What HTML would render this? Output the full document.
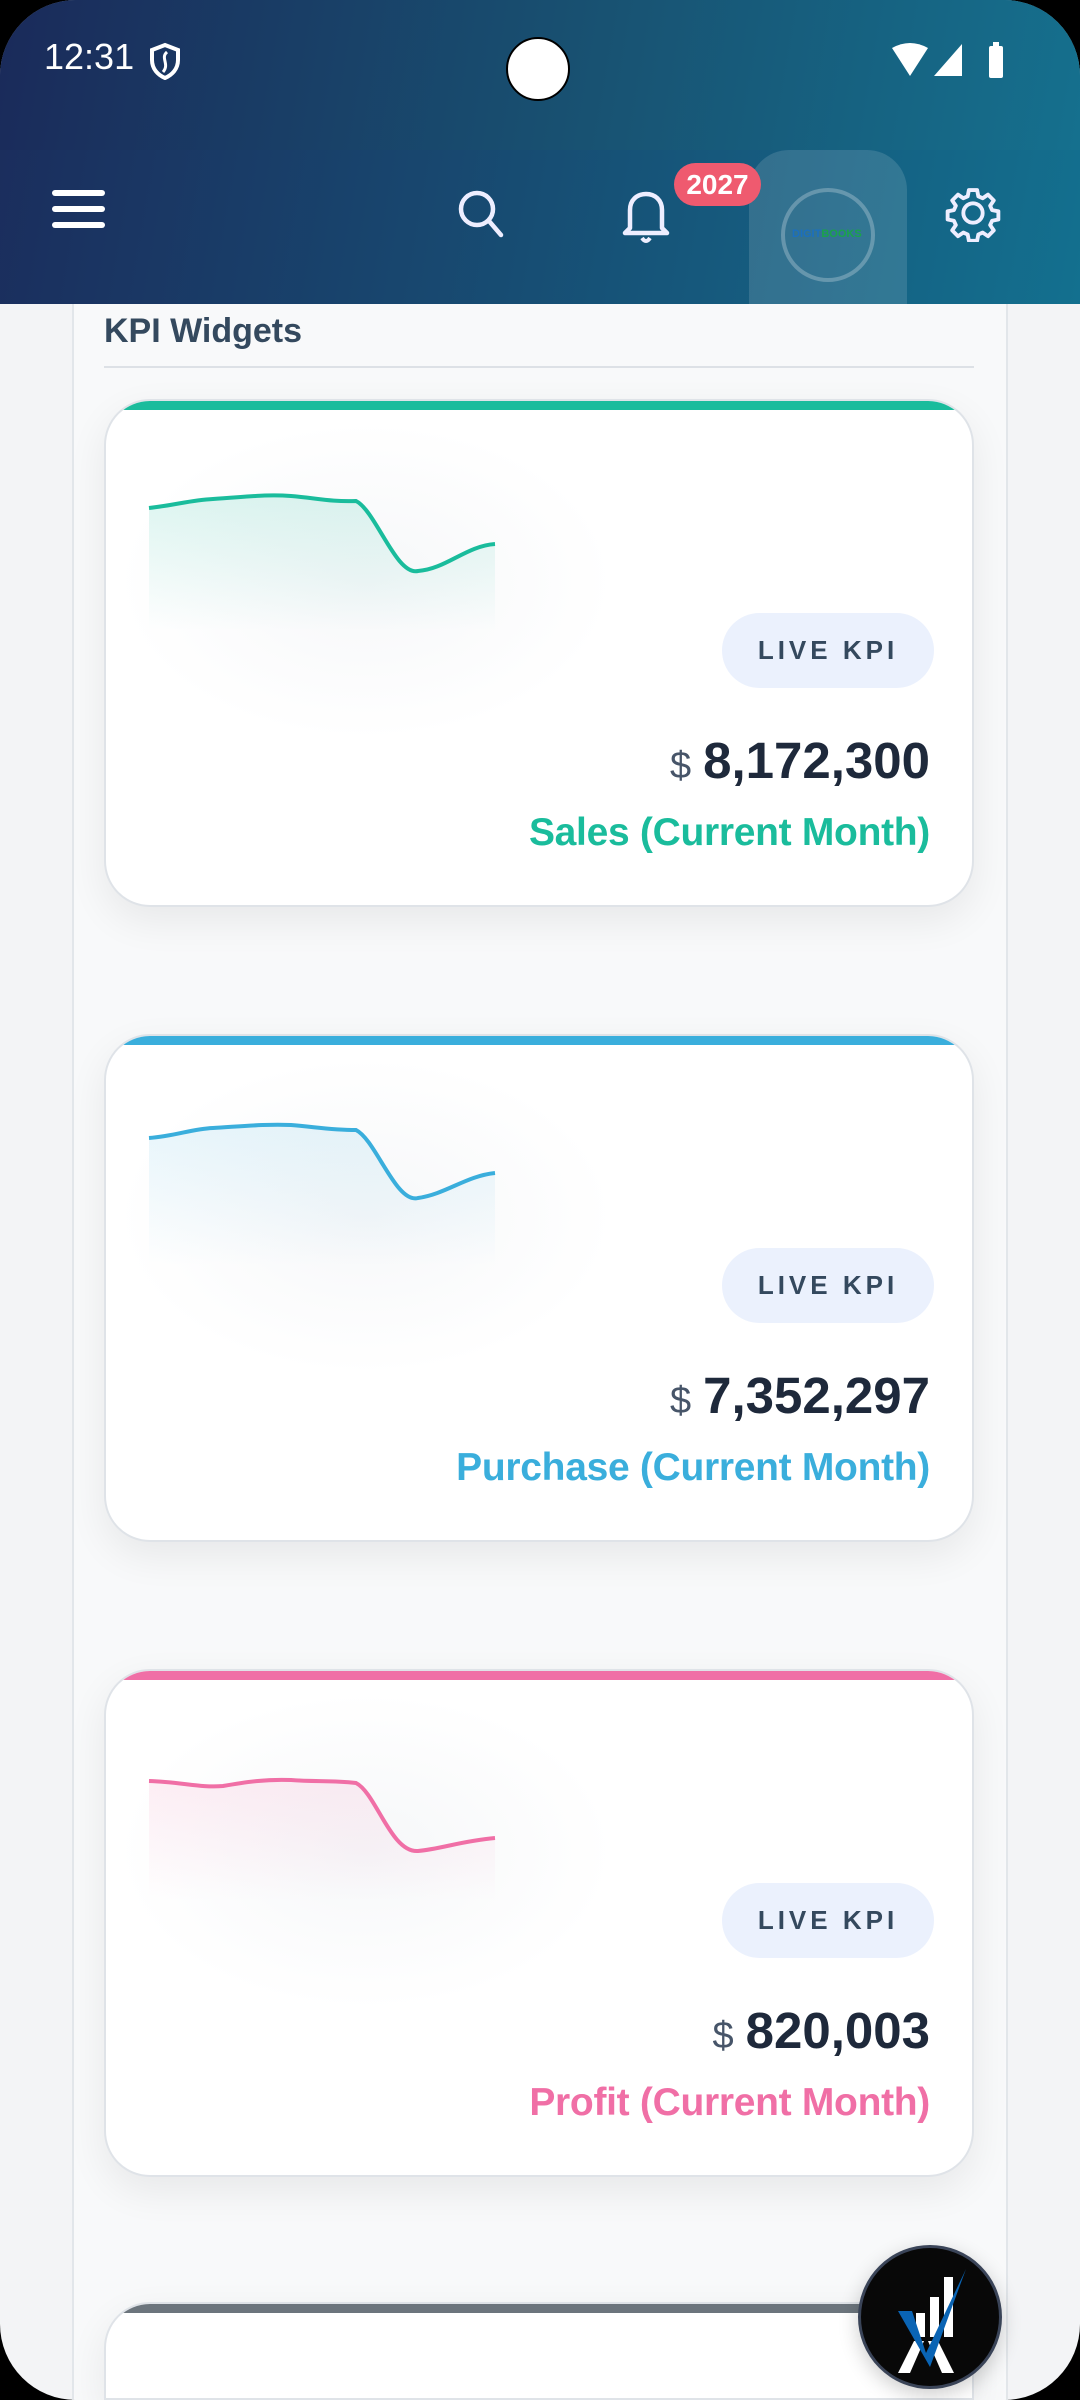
<!DOCTYPE html>
<html><head><meta charset="utf-8"><style>
*{margin:0;padding:0;box-sizing:border-box}
html,body{width:1080px;height:2400px;overflow:hidden}
body{background:#000;font-family:"Liberation Sans",sans-serif;position:relative}
.screen{position:absolute;left:0;top:0;width:1080px;height:2400px;border-radius:76px;overflow:hidden;background:#f3f4f6}
.header{position:absolute;left:0;top:0;width:1080px;height:304px;background:linear-gradient(100deg,#1b2c5c 0%,#174d73 50%,#13708f 100%)}
.status{position:absolute;left:0;top:0;width:1080px;height:150px;background:linear-gradient(100deg,#1a2a5a 0%,#185272 55%,#15708e 100%)}
.panel{position:absolute;left:72px;top:304px;width:936px;height:2096px;background:#f8f9fa;border-left:2px solid #e2e6ea;border-right:2px solid #e2e6ea}
.card{position:absolute;left:104px;width:870px;height:508px;background:#fff;border-radius:46px;border:2px solid #dfe3e8;box-shadow:0 14px 40px rgba(0,0,0,0.07);overflow:hidden}
.card .bar{position:absolute;left:0;top:0;width:100%;height:9px}
.pill{position:absolute;left:616px;top:212px;width:212px;height:75px;border-radius:38px;background:#ebf1fd;color:#34495e;font-weight:bold;font-size:26px;letter-spacing:4px;text-align:center;line-height:75px}
.val{position:absolute;right:42px;top:330px;font-weight:bold;font-size:51px;color:#1e293b;white-space:nowrap}
.val span{font-size:38px;color:#475569;font-weight:normal;margin-right:12px}
.lab{position:absolute;right:42px;top:410px;font-weight:bold;font-size:39px;letter-spacing:-0.3px;white-space:nowrap}
.glow{position:absolute;left:10px;top:20px;width:500px;height:320px;border-radius:50%;background:radial-gradient(ellipse,rgba(240,242,245,0.6),rgba(255,255,255,0) 70%)}
</style></head><body>
<div class="screen">
<div class="header"></div>
<div class="status"></div>
<div style="position:absolute;left:44px;top:36px;color:#fff;font-size:36px">12:31</div>
<svg style="position:absolute;left:148px;top:42px" width="34" height="38" viewBox="0 0 34 38"><path d="M17 3 L30 8 V18 C30 27 24 33 17 36 C10 33 4 27 4 18 V8 Z" fill="none" stroke="#fff" stroke-width="4"/><path d="M19 10 C12 16 22 22 15 30" fill="none" stroke="#fff" stroke-width="3"/></svg>
<div style="position:absolute;left:506px;top:37px;width:64px;height:64px;border-radius:50%;background:#fff;border:2px solid #000"></div>
<svg style="position:absolute;left:890px;top:40px" width="120" height="40" viewBox="0 0 120 40"><path d="M2 8 Q20 -2 38 8 L20 36 Z" fill="#fff"/><path d="M72 4 V36 H44 Z" fill="#fff"/><rect x="99" y="6" width="14" height="32" rx="2" fill="#fff"/><rect x="103" y="2" width="6" height="6" fill="#fff"/></svg>
<div style="position:absolute;left:52px;top:190px;width:53px;height:6px;border-radius:3px;background:#fff"></div>
<div style="position:absolute;left:52px;top:206px;width:53px;height:6px;border-radius:3px;background:#fff"></div>
<div style="position:absolute;left:52px;top:222px;width:53px;height:6px;border-radius:3px;background:#fff"></div>
<svg style="position:absolute;left:456px;top:188px" width="52" height="52" viewBox="0 0 52 52"><circle cx="21" cy="21" r="16" fill="none" stroke="#eef" stroke-width="4.5"/><line x1="33" y1="33" x2="45" y2="47" stroke="#eef" stroke-width="4.5" stroke-linecap="round"/></svg>
<svg style="position:absolute;left:618px;top:186px" width="56" height="60" viewBox="0 0 56 60"><path d="M12 42 V24 C12 14 19 8 28 8 C37 8 44 14 44 24 V42 L49 47 H7 Z" fill="none" stroke="#eef" stroke-width="4.5" stroke-linejoin="round"/><path d="M24 52 Q28 58 32 52" fill="none" stroke="#eef" stroke-width="4"/></svg>
<div style="position:absolute;left:749px;top:150px;width:158px;height:154px;border-radius:40px 40px 0 0;background:rgba(255,255,255,0.13)"></div>
<div style="position:absolute;left:781px;top:188px;width:94px;height:94px;border-radius:50%;border:4px solid rgba(255,255,255,0.25)"></div>
<div style="position:absolute;left:792px;top:228px;font-size:11px;color:#1b6fc0;font-weight:bold">DIGIT<span style="color:#1aa34a">BOOKS</span></div>
<div style="position:absolute;left:674px;top:163px;width:87px;height:43px;border-radius:22px;background:#ef5a6f;color:#fff;font-weight:bold;font-size:28px;text-align:center;line-height:43px">2027</div>
<svg style="position:absolute;left:944px;top:184px" width="58" height="58" viewBox="0 0 24 24"><path d="M12 8a4 4 0 1 0 0 8a4 4 0 1 0 0-8z" fill="none" stroke="#eef" stroke-width="1.6"/><path d="M10.3 2.5h3.4l.5 2.6 1.8.8 2.2-1.5 2.4 2.4-1.5 2.2.8 1.8 2.6.5v3.4l-2.6.5-.8 1.8 1.5 2.2-2.4 2.4-2.2-1.5-1.800.8-.5 2.6h-3.4l-.5-2.6-1.8-.8-2.2 1.5-2.4-2.4 1.5-2.2-.8-1.8-2.6-.5v-3.4l2.6-.5.8-1.8-1.5-2.2 2.4-2.4 2.2 1.5 1.8-.8z" fill="none" stroke="#eef" stroke-width="1.6" stroke-linejoin="round"/></svg>
<div class="panel"></div>
<div style="position:absolute;left:104px;top:312px;font-size:34px;font-weight:bold;color:#34495e">KPI Widgets</div>
<div style="position:absolute;left:104px;top:366px;width:870px;height:2px;background:#dde1e6"></div>

<div class="card" style="top:399px">
 <div class="bar" style="background:#1abc9c"></div><div class="glow"></div>
 <svg style="position:absolute;left:0;top:0" width="600" height="300"><defs><linearGradient id="g1" x1="0" y1="0" x2="0" y2="1"><stop offset="0" stop-color="#1abc9c" stop-opacity="0.15"/><stop offset="1" stop-color="#1abc9c" stop-opacity="0"/></linearGradient></defs>
 <path d="M43 107 C70 104 85 99 107 98 C140 96 160 93 185 95 C210 97 225 101 250 100 C270 110 290 175 312 170 C340 168 360 145 389 143 L389 230 L43 230 Z" fill="url(#g1)"/>
 <path d="M43 107 C70 104 85 99 107 98 C140 96 160 93 185 95 C210 97 225 101 250 100 C270 110 290 175 312 170 C340 168 360 145 389 143" fill="none" stroke="#1abc9c" stroke-width="4"/></svg>
 <div class="pill">LIVE KPI</div>
 <div class="val"><span>$</span>8,172,300</div>
 <div class="lab" style="color:#1abc9c">Sales (Current Month)</div>
</div>

<div class="card" style="top:1034px">
 <div class="bar" style="background:#3aaedc"></div><div class="glow"></div>
 <svg style="position:absolute;left:0;top:0" width="600" height="300"><defs><linearGradient id="g2" x1="0" y1="0" x2="0" y2="1"><stop offset="0" stop-color="#3aaedc" stop-opacity="0.12"/><stop offset="1" stop-color="#3aaedc" stop-opacity="0"/></linearGradient></defs>
 <path d="M43 102 C70 100 85 93 107 92 C140 90 160 88 185 89 C210 91 225 94 250 94 C270 104 290 168 312 162 C340 158 360 140 389 137 L389 230 L43 230 Z" fill="url(#g2)"/>
 <path d="M43 102 C70 100 85 93 107 92 C140 90 160 88 185 89 C210 91 225 94 250 94 C270 104 290 168 312 162 C340 158 360 140 389 137" fill="none" stroke="#3aaedc" stroke-width="4"/></svg>
 <div class="pill">LIVE KPI</div>
 <div class="val"><span>$</span>7,352,297</div>
 <div class="lab" style="color:#3aaedc">Purchase (Current Month)</div>
</div>

<div class="card" style="top:1669px">
 <div class="bar" style="background:#f06fa6"></div><div class="glow"></div>
 <svg style="position:absolute;left:0;top:0" width="600" height="300"><defs><linearGradient id="g3" x1="0" y1="0" x2="0" y2="1"><stop offset="0" stop-color="#f06fa6" stop-opacity="0.12"/><stop offset="1" stop-color="#f06fa6" stop-opacity="0"/></linearGradient></defs>
 <path d="M43 110 C75 111 95 117 117 115 C140 111 160 108 185 109 C210 111 225 109 250 112 C270 122 285 182 312 180 C335 178 355 170 389 167 L389 230 L43 230 Z" fill="url(#g3)"/>
 <path d="M43 110 C75 111 95 117 117 115 C140 111 160 108 185 109 C210 111 225 109 250 112 C270 122 285 182 312 180 C335 178 355 170 389 167" fill="none" stroke="#f06fa6" stroke-width="4"/></svg>
 <div class="pill">LIVE KPI</div>
 <div class="val"><span>$</span>820,003</div>
 <div class="lab" style="color:#f06fa6">Profit (Current Month)</div>
</div>

<div class="card" style="top:2302px;height:98px;border-radius:46px 46px 0 0">
 <div class="bar" style="background:#6c757d"></div>
</div>

<div style="position:absolute;left:858px;top:2245px;width:144px;height:144px;border-radius:50%;background:#080808;border:3px solid #3a4458;box-shadow:0 6px 20px rgba(0,0,0,0.2)"></div>
<svg style="position:absolute;left:858px;top:2245px" width="144" height="144" viewBox="0 0 144 144"><rect x="86" y="32" width="9" height="60" fill="#fff"/><rect x="72" y="52" width="9" height="40" fill="#fff"/><rect x="58" y="68" width="9" height="24" fill="#fff"/><path d="M56 96 L66 96 L52 128 L40 128 Z" fill="#fff"/><path d="M70 96 L80 96 L96 128 L84 128 Z" fill="#fff"/><path d="M40 66 L54 66 L68 108 L108 24 L72 122 Z" fill="#0a64b4"/></svg>
</div>
</body></html>
